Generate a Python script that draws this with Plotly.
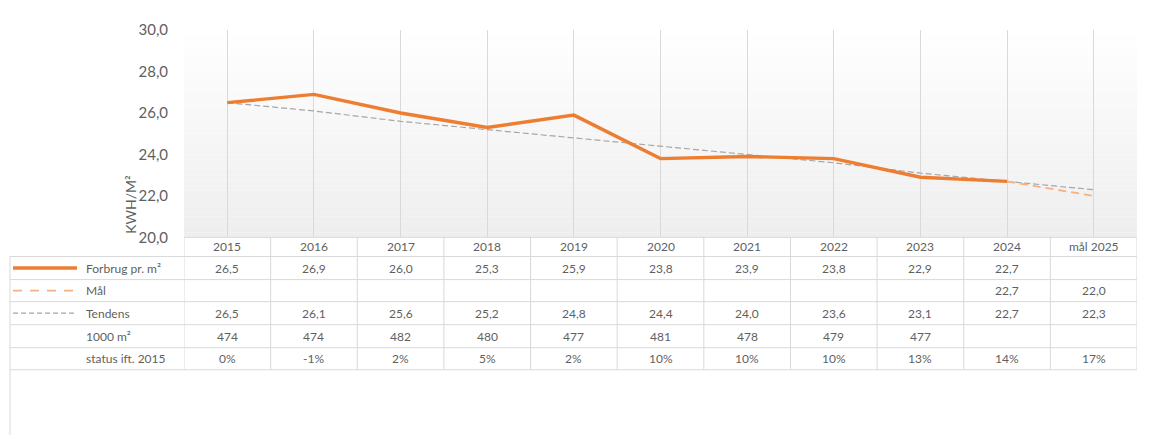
import plotly.graph_objects as go

# ---------------- data ----------------
categories = ["2015", "2016", "2017", "2018", "2019", "2020", "2021", "2022", "2023", "2024", "mål 2025"]
forbrug = [26.5, 26.9, 26.0, 25.3, 25.9, 23.8, 23.9, 23.8, 22.9, 22.7, None]
maal = [None, None, None, None, None, None, None, None, None, 22.7, 22.0]
tendens = [26.5, 26.1, 25.6, 25.2, 24.8, 24.4, 24.0, 23.6, 23.1, 22.7, 22.3]
areal_1000m2 = [474, 474, 482, 480, 477, 481, 478, 479, 477, None, None]
status_pct = [0, -1, 2, 5, 2, 10, 10, 10, 13, 14, 17]
y_ticks = [20, 22, 24, 26, 28, 30]
row_labels = ["Forbrug pr. m²", "Mål", "Tendens", "1000 m²", "status ift. 2015"]
y_title = "KWH/M²"

# ---------------- layout constants ----------------
W, H = 1165, 443
FONT = "Lato, Carlito, 'Open Sans', sans-serif"
TXT = "#5f5f5f"
GRID = "#d9d9d9"
ORANGE = "#ED7D31"
LIGHT_ORANGE = "#F4B183"
GREY = "#A6A6A6"

def px(p):
    return p / W

def py(p):
    return 1 - p / H

plot_left, plot_right, plot_top, plot_bottom = 184, 1137, 21, 237
row_edges = [237, 257, 281, 304, 328, 352, 375]
n = len(categories)
xi = list(range(n))

def fmt1(v):
    return "" if v is None else f"{v:.1f}".replace(".", ",")

fig = go.Figure()

fig.add_trace(go.Scatter(x=xi, y=tendens, mode="lines",
                         line=dict(color=GREY, width=1.2, dash="6px,3px"),
                         hoverinfo="skip", showlegend=False))
fig.add_trace(go.Scatter(x=xi, y=maal, mode="lines",
                         line=dict(color=LIGHT_ORANGE, width=1.8, dash="8px,5px"),
                         hoverinfo="skip", showlegend=False))
fig.add_trace(go.Scatter(x=xi, y=forbrug, mode="lines",
                         line=dict(color=ORANGE, width=3.4),
                         hoverinfo="skip", showlegend=False))

shapes = []
# background gradient of the plot area
steps = 40
y0, y1 = y_ticks[0], y_ticks[-1]
for i in range(steps):
    t = i / steps
    c = round(238 + (255 - 238) * t)
    shapes.append(dict(type="rect", xref="x", yref="y", layer="below",
                       x0=-0.5, x1=n - 0.5,
                       y0=y0 + (y1 - y0) * i / steps, y1=y0 + (y1 - y0) * (i + 1) / steps,
                       fillcolor=f"rgb({c},{c},{c})", line=dict(width=0)))

# table horizontal lines
shapes.append(dict(type="line", xref="x", yref="paper", x0=-0.5, x1=n - 0.5,
                   y0=py(row_edges[0]), y1=py(row_edges[0]), line=dict(color=GRID, width=1)))
for e in row_edges[1:]:
    shapes.append(dict(type="line", xref="paper", yref="paper", x0=px(10), x1=px(plot_right),
                       y0=py(e), y1=py(e), line=dict(color=GRID, width=1)))
# table vertical lines
for k in range(n + 1):
    shapes.append(dict(type="line", xref="x", yref="paper", x0=k - 0.5, x1=k - 0.5,
                       y0=py(row_edges[0]), y1=py(row_edges[-1]), line=dict(color=GRID, width=1)))
# chart-area left border
shapes.append(dict(type="line", xref="paper", yref="paper", x0=px(10), x1=px(10),
                   y0=py(row_edges[1]), y1=py(H), line=dict(color=GRID, width=1)))

# legend keys
key_styles = [dict(color=ORANGE, width=3.4),
              dict(color=LIGHT_ORANGE, width=1.6, dash="9px,8px"),
              dict(color=GREY, width=1.1, dash="5px,3px")]
for r, st in enumerate(key_styles):
    yc = (row_edges[r + 1] + row_edges[r + 2]) / 2
    shapes.append(dict(type="line", xref="paper", yref="paper", x0=px(13), x1=px(77),
                       y0=py(yc), y1=py(yc), line=st))

annotations = []
cell_font = dict(family=FONT, size=12, color=TXT)
yc = (row_edges[0] + row_edges[1]) / 2
for c, cat in enumerate(categories):
    annotations.append(dict(x=c, y=py(yc), xref="x", yref="paper", text=cat, showarrow=False,
                            xanchor="center", yanchor="middle", font=cell_font))

rows = [
    [fmt1(v) for v in forbrug],
    [fmt1(v) for v in maal],
    [fmt1(v) for v in tendens],
    ["" if v is None else str(v) for v in areal_1000m2],
    [f"{v}%" for v in status_pct],
]
for r, vals in enumerate(rows):
    yc = (row_edges[r + 1] + row_edges[r + 2]) / 2
    annotations.append(dict(x=px(84), y=py(yc), xref="paper", yref="paper", text=row_labels[r],
                            showarrow=False, xanchor="left", yanchor="middle", font=cell_font))
    for c, t in enumerate(vals):
        if t:
            annotations.append(dict(x=c, y=py(yc), xref="x", yref="paper", text=t, showarrow=False,
                                    xanchor="center", yanchor="middle", font=cell_font))

annotations.append(dict(x=px(131), y=py(203), xref="paper", yref="paper", text=y_title,
                        textangle=-90, showarrow=False, xanchor="center", yanchor="middle",
                        font=dict(family=FONT, size=14, color=TXT)))

fig.update_layout(
    width=W, height=H, autosize=False,
    margin=dict(l=0, r=0, t=0, b=0),
    paper_bgcolor="white", plot_bgcolor="white",
    separators=",.",
    font=dict(family=FONT, color=TXT),
    showlegend=False,
    shapes=shapes,
    annotations=annotations,
    xaxis=dict(domain=[px(plot_left), px(plot_right)], range=[-0.5, n - 0.5],
               tickmode="array", tickvals=xi, ticktext=categories,
               showticklabels=False, ticks="", showgrid=True, gridcolor=GRID, gridwidth=1,
               zeroline=False, showline=False, fixedrange=True),
    yaxis=dict(domain=[py(plot_bottom), py(plot_top)], range=[y_ticks[0], y_ticks[-1]],
               tickmode="array", tickvals=y_ticks, tickformat=".1f",
               tickfont=dict(family=FONT, size=15, color=TXT), ticklabelstandoff=15,
               showgrid=False, zeroline=False, showline=False, ticks="", fixedrange=True),
)

fig.write_html("out.html", config={"displayModeBar": False},
               post_script="document.body.style.margin='0';document.body.style.overflow='hidden';")
